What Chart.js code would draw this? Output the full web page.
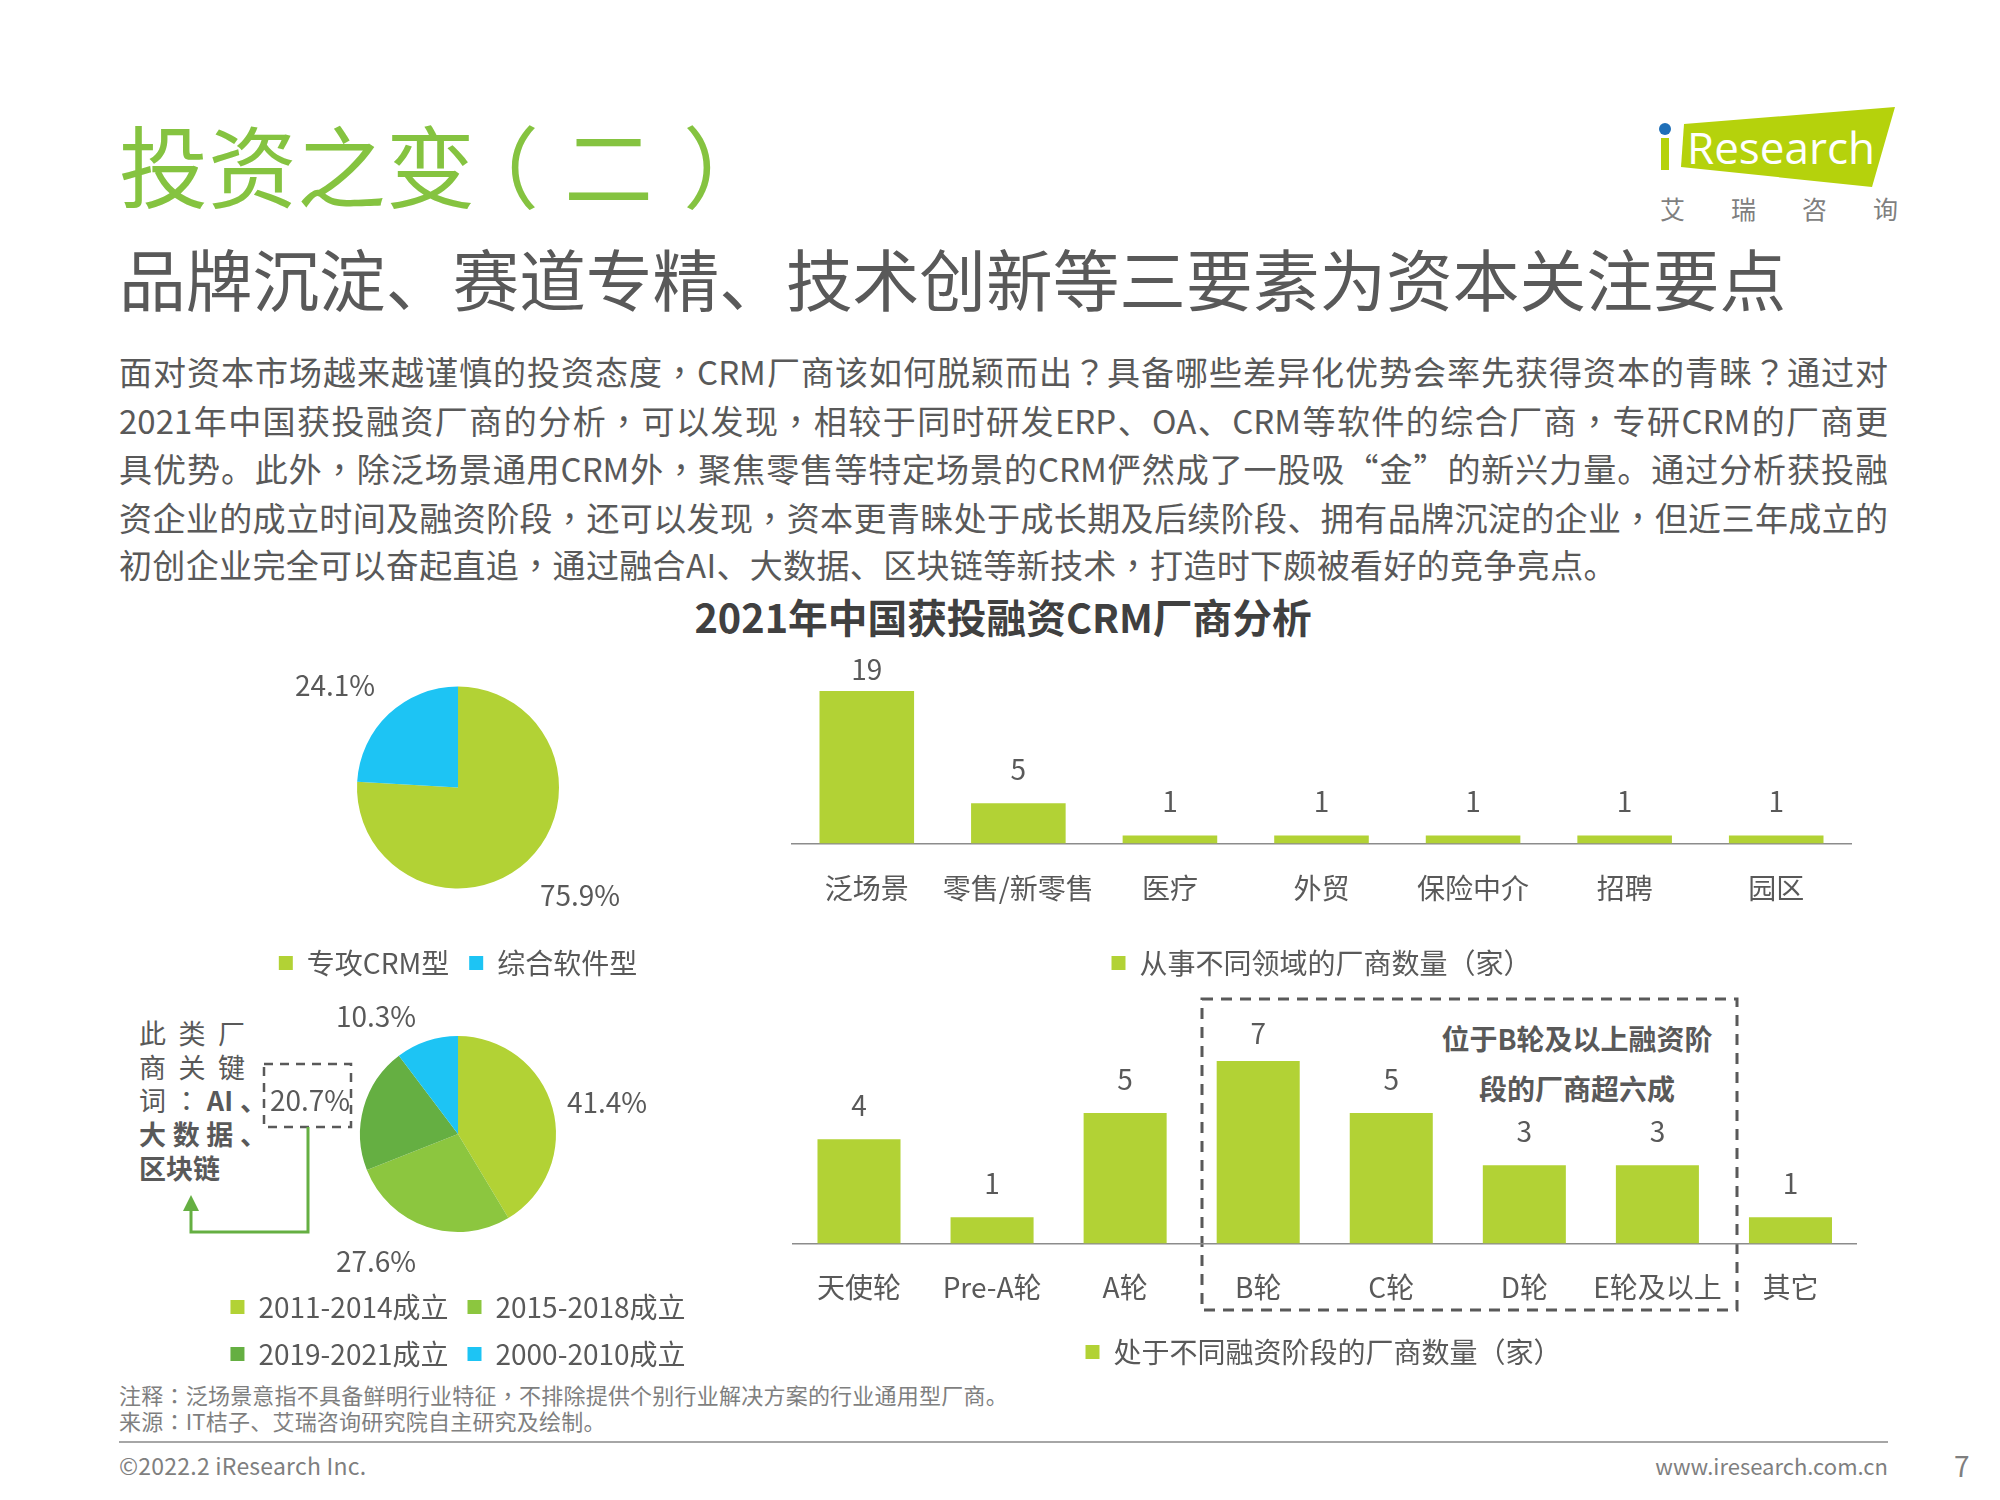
<!DOCTYPE html>
<html lang="zh-CN">
<head>
<meta charset="utf-8">
<title>投资之变（二）</title>
<script src="https://cdn.jsdelivr.net/npm/chart.js@4"></script>
<style>
  html, body { margin: 0; padding: 0; background: #fff; }
  #page { position: relative; width: 2000px; height: 1500px; overflow: hidden; font-family: "Noto Sans CJK SC", "Noto Sans", sans-serif; color: #595959; }
  #page > * { position: absolute; }
  .t { white-space: nowrap; line-height: 1; }
  .body-line { left: 119px; width: 1769px; font-size: 33px; line-height: 1; white-space: normal; text-align: justify; text-align-last: justify; color: #595959; }
  .kw { left: 139px; display: flex; justify-content: space-between; font-size: 27px; line-height: 1; color: #595959; }
  .kw b { font-weight: 700; }
  .note { left: 119px; font-size: 22px; color: #7f7f7f; letter-spacing: 0.22px; }
  .paren { position: relative; }
  /* 逗号、冒号、问号在原图里居中，繁体字形正好如此 */
  .punct { font-family: "Noto Sans CJK TC"; }
</style>
</head>
<body>
<div id="page">
  <div class="t" style="left:119px;top:118px;font-size:89px;font-weight:400;color:#85c340">投资之变<span class="paren" style="left:-25px">（</span>二<span class="paren" style="left:30px">）</span></div>
  <div class="t" style="left:119px;top:244px;font-size:66.7px;font-weight:400;color:#595959">品牌沉淀、赛道专精、技术创新等三要素为资本关注要点</div>

  <div class="body-line" style="top:355px">面对资本市场越来越谨慎的投资态度，CRM厂商该如何脱颖而出？具备哪些差异化优势会率先获得资本的青睐？通过对</div>
  <div class="body-line" style="top:404px">2021年中国获投融资厂商的分析，可以发现，相较于同时研发ERP、OA、CRM等软件的综合厂商，专研CRM的厂商更</div>
  <div class="body-line" style="top:452px">具优势。此外，除泛场景通用CRM外，聚焦零售等特定场景的CRM俨然成了一股吸“金”的新兴力量。通过分析获投融</div>
  <div class="body-line" style="top:501px">资企业的成立时间及融资阶段，还可以发现，资本更青睐处于成长期及后续阶段、拥有品牌沉淀的企业，但近三年成立的</div>
  <div class="body-line" style="top:548px;text-align-last:left;letter-spacing:0.35px">初创企业完全可以奋起直追，通过融合AI、大数据、区块链等新技术，打造时下颇被看好的竞争亮点。</div>

  <div class="t" style="left:0;width:2006px;top:596px;text-align:center;font-size:39.7px;font-weight:700;color:#404040">2021年中国获投融资CRM厂商分析</div>

  <svg width="2000" height="1500" style="left:0;top:0">
    <polygon points="1684,124 1895,107 1872,187 1681,167" fill="#b5d20c"/>
    <rect x="1661" y="138" width="8" height="32" fill="#b5d20c"/>
    <circle cx="1665" cy="129" r="6" fill="#1f6fb8"/>
    <text x="1687" y="164" font-size="44" fill="#fff" font-family="Open Sans">Research</text>
    <!-- 融资阶段虚线框 -->
    <rect x="1202" y="999" width="535" height="311" fill="none" stroke="#595959" stroke-width="3" stroke-dasharray="11 8"/>
    <!-- 20.7% 虚线框和箭头 -->
    <rect x="264" y="1064" width="87" height="63" fill="none" stroke="#595959" stroke-width="2.5" stroke-dasharray="9 7"/>
    <polyline points="308,1127 308,1232 191,1232 191,1206" fill="none" stroke="#65af42" stroke-width="3"/>
    <polygon points="191,1195 199,1211 183,1211" fill="#65af42"/>
  </svg>

  <div class="t" style="left:1660px;top:196px;font-size:25px;letter-spacing:46px;color:#7f7f7f">艾瑞咨询</div>

  <div class="kw" style="top:1019px;width:106px"><span>此</span><span>类</span><span>厂</span></div>
  <div class="kw" style="top:1053px;width:106px"><span>商</span><span>关</span><span>键</span></div>
  <div class="kw" style="top:1086px;width:128px"><span>词</span><span class="punct" lang="zh-TW">：</span><b>AI</b><b>、</b></div>
  <div class="kw" style="top:1120px;width:128px"><b>大</b><b>数</b><b>据</b><b>、</b></div>
  <div class="kw" style="top:1154px"><b>区块链</b></div>

  <div class="t" style="left:0;width:3154px;top:1024px;text-align:center;font-size:28px;font-weight:700;color:#595959">位于B轮及以上融资阶</div>
  <div class="t" style="left:0;width:3154px;top:1074px;text-align:center;font-size:28px;font-weight:700;color:#595959">段的厂商超六成</div>

  <canvas id="typePie" width="520" height="357" style="left:198px;top:630px"></canvas>
  <canvas id="agePie" width="520" height="388" style="left:198px;top:990px"></canvas>
  <canvas id="fieldBar" width="1061" height="347" style="left:791px;top:640px"></canvas>
  <canvas id="roundBar" width="1067" height="376" style="left:790px;top:1000px"></canvas>

  <div class="t note" style="top:1383px">注释：泛场景意指不具备鲜明行业特征，不排除提供个别行业解决方案的行业通用型厂商。</div>
  <div class="t note" style="top:1409px">来源：IT桔子、艾瑞咨询研究院自主研究及绘制。</div>
  <div style="left:119px;top:1441px;width:1769px;height:2px;background:#a6a6a6"></div>
  <div class="t note" style="top:1454px;font-size:23px">©2022.2 iResearch Inc.</div>
  <div class="t note" style="left:auto;right:112px;top:1454px;letter-spacing:0">www.iresearch.com.cn</div>
  <div class="t" style="left:1954px;top:1451px;font-size:28px;color:#7f7f7f">7</div>
</div>

<script>
const typeLabels = ['专攻CRM型', '综合软件型']
const typeValues = [75.9, 24.1]
const ageLabels = ['2011-2014成立', '2015-2018成立', '2019-2021成立', '2000-2010成立']
const ageValues = [41.4, 27.6, 20.7, 10.3]
const fieldLabels = ['泛场景', '零售/新零售', '医疗', '外贸', '保险中介', '招聘', '园区']
const fieldValues = [19, 5, 1, 1, 1, 1, 1]
const roundLabels = ['天使轮', 'Pre-A轮', 'A轮', 'B轮', 'C轮', 'D轮', 'E轮及以上', '其它']
const roundValues = [4, 1, 5, 7, 5, 3, 3, 1]

const LIME = '#b2d235'
const GREEN = '#8cc63f'
const DARK_GREEN = '#65af42'
const SKY = '#1dc4f4'
const GREY = '#595959'

document.querySelectorAll('.body-line, .note').forEach(el => {
  el.innerHTML = el.innerHTML.replace(/[，：？]/g, '<span class="punct" lang="zh-TW">$&</span>')
})

Chart.defaults.font.family = '"Noto Sans CJK SC", "Noto Sans", sans-serif'
Chart.defaults.font.size = 28
Chart.defaults.color = GREY
Chart.defaults.animation = false
Chart.defaults.responsive = false
Chart.defaults.devicePixelRatio = 1
Chart.defaults.plugins.tooltip.enabled = false

// 柱顶数字，最高那根柱子的数字贴得更近
const barValues = {
  id: 'barValues',
  afterDatasetsDraw(chart, args, opts) {
    const { ctx } = chart
    const values = chart.data.datasets[0].data
    const top = Math.max(...values)
    ctx.save()
    ctx.font = '28px ' + Chart.defaults.font.family
    ctx.fillStyle = GREY
    ctx.textAlign = 'center'
    ctx.textBaseline = 'middle'
    chart.getDatasetMeta(0).data.forEach((bar, i) => {
      ctx.fillText(values[i], bar.x, bar.y - (values[i] === top ? opts.topGap : 34))
    })
    ctx.restore()
  }
}

// 饼图外的百分比，偏移量相对饼心
const pieValues = {
  id: 'pieValues',
  afterDatasetsDraw(chart, args, opts) {
    const { ctx } = chart
    const arc = chart.getDatasetMeta(0).data[0]
    ctx.save()
    ctx.font = '28px ' + Chart.defaults.font.family
    ctx.fillStyle = GREY
    ctx.textAlign = 'center'
    ctx.textBaseline = 'middle'
    chart.data.datasets[0].data.forEach((v, i) => {
      const [dx, dy] = opts.offsets[i]
      ctx.fillText(v.toFixed(1) + '%', arc.x + dx, arc.y + dy)
    })
    ctx.restore()
  }
}

function legendOpts(padding) {
  return {
    position: 'bottom',
    labels: { boxWidth: 14, boxHeight: 14, padding: padding, color: GREY, font: { size: 28 } }
  }
}

function makePie(id, labels, values, colors, radius, paddingTop, legendPadding, offsets) {
  return new Chart(document.getElementById(id), {
    type: 'pie',
    data: {
      labels: labels,
      datasets: [{ data: values, backgroundColor: colors, borderWidth: 0, radius: radius }]
    },
    options: {
      layout: { padding: { top: paddingTop } },
      plugins: {
        legend: legendOpts(legendPadding),
        pieValues: { offsets: offsets }
      }
    },
    plugins: [pieValues]
  })
}

function makeBar(id, labels, values, name, paddingTop, tickPadding, extraHeight, topGap) {
  return new Chart(document.getElementById(id), {
    type: 'bar',
    data: {
      labels: labels,
      datasets: [{
        label: name,
        data: values,
        backgroundColor: LIME,
        barPercentage: 1,
        categoryPercentage: 0.624
      }]
    },
    options: {
      layout: { padding: { top: paddingTop } },
      scales: {
        y: { display: false, min: 0, max: Math.max(...values) },
        x: {
          grid: { display: false, drawTicks: false },
          border: { color: '#8c8c8c', width: 1.5 },
          ticks: { padding: tickPadding, color: GREY, font: { size: 28 }, maxRotation: 0, autoSkip: false },
          afterFit(scale) { scale.height += extraHeight }
        }
      },
      plugins: {
        legend: legendOpts(10),
        barValues: { topGap: topGap }
      }
    },
    plugins: [barValues]
  })
}

makePie('typePie', typeLabels, typeValues, [LIME, SKY], 101, 16, 20, [[122, 108], [-123, -102]])
makePie('agePie', ageLabels, ageValues, [LIME, GREEN, DARK_GREEN, SKY], 98, 4, 19, [[149, -32], [-82, 127], [-148, -34], [-82, -118]])
makeBar('fieldBar', fieldLabels, fieldValues, '从事不同领域的厂商数量（家）', 51, 28, 6, 22)
makeBar('roundBar', roundLabels, roundValues, '处于不同融资阶段的厂商数量（家）', 61, 27, -3, 28)
</script>
</body>
</html>
